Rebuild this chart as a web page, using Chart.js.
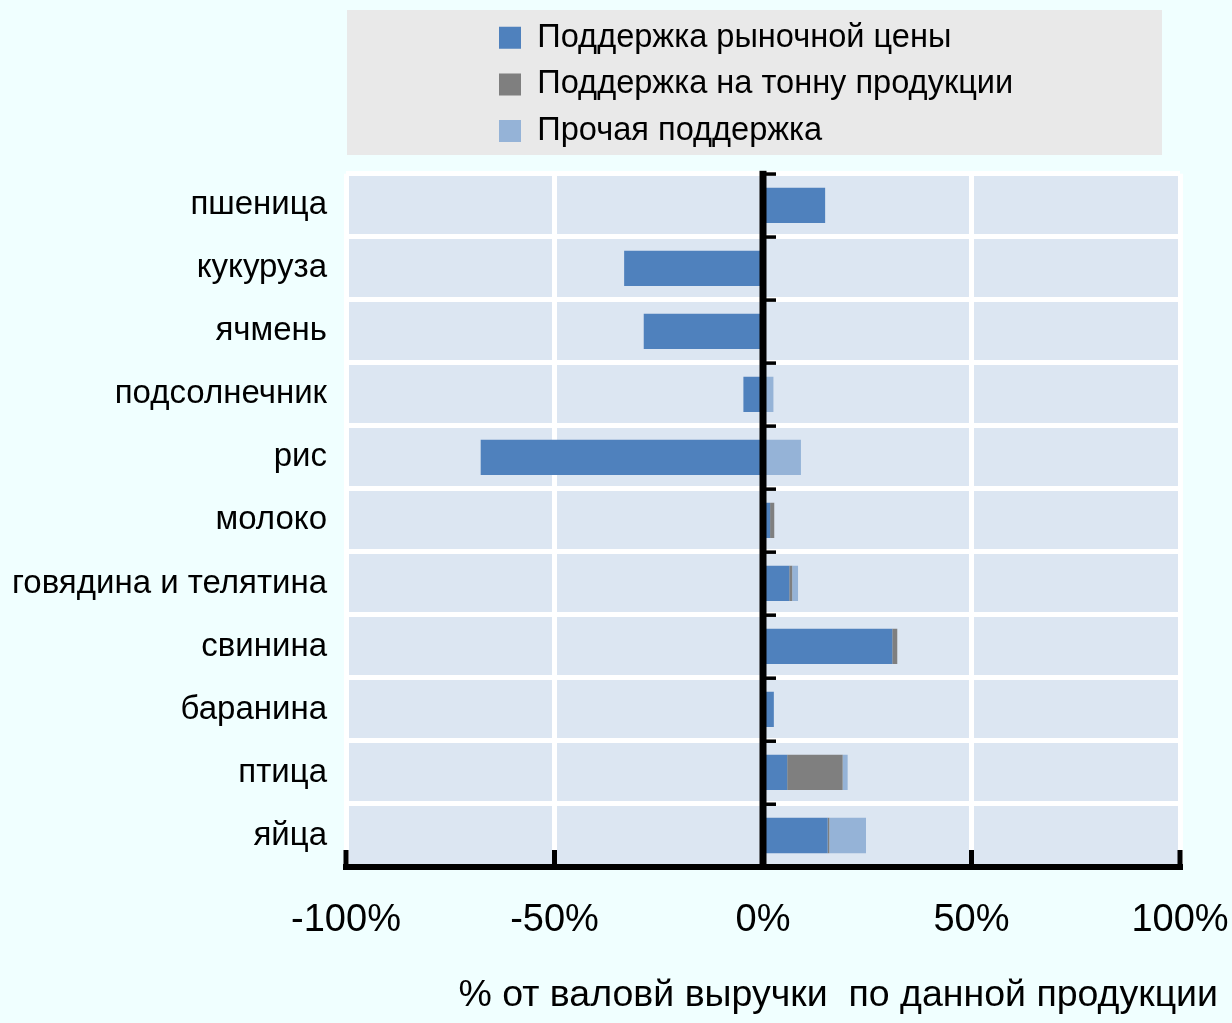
<!DOCTYPE html>
<html><head><meta charset="utf-8">
<script src="https://cdn.jsdelivr.net/npm/chart.js@4.4.1/dist/chart.umd.min.js"></script>
<style>html,body{margin:0;padding:0;background:#f0ffff;}canvas{display:block;}</style>
</head><body>
<canvas id="c" width="1232" height="1023"></canvas>
<script>
const categories = ['пшеница','кукуруза','ячмень','подсолнечник','рис','молоко','говядина и телятина','свинина','баранина','птица','яйца'];
const seriesNames = ['Поддержка рыночной цены','Поддержка на тонну продукции','Прочая поддержка'];
const marketPriceSupport = [14.9, -33.3, -28.6, -4.7, -67.7, 1.7, 6.3, 31.0, 2.6, 5.8, 15.5];
const perTonneSupport    = [0, 0, 0, 0, 0, 1.0, 0.7, 1.2, 0, 13.3, 0.4];
const otherSupport       = [0, 0, 0, 2.5, 9.1, 0, 1.4, 0, 0, 1.2, 8.8];
const xTickValues = [-100, -50, 0, 50, 100];
const axisTitle = '% от валовй выручки  по данной продукции';
const seriesColors = ['#4f81bd', '#7f7f7f', '#95b3d7'];

function hasFont(name) {
  const c = document.createElement('canvas').getContext('2d');
  const s = 'abcdefghij 0123456789%';
  c.font = '40px monospace'; const a = c.measureText(s).width;
  c.font = '40px "' + name + '", monospace'; const b = c.measureText(s).width;
  return Math.abs(a - b) > 0.5;
}
const FAM = '"Liberation Sans", Arial, sans-serif';
const narrow = hasFont('Liberation Sans Narrow');
const tickFont = narrow ? {family: '"Liberation Sans Narrow", ' + FAM, size: 44} : {family: FAM, size: 38};

const decor = {
  id: 'decor',
  afterLayout(chart) {
    const lg = chart.legend;
    const w = lg.right - lg.left;
    lg.left = 485; lg.right = 485 + w;
  },
  beforeDraw(chart) {
    const {ctx, chartArea: a} = chart;
    ctx.save();
    ctx.fillStyle = '#f0ffff'; ctx.fillRect(0, 0, chart.width, chart.height);
    ctx.fillStyle = '#e9e9e9'; ctx.fillRect(a.left + 1, 10, a.right - 18 - a.left - 1, 145);
    ctx.fillStyle = '#dce6f2'; ctx.fillRect(a.left, a.top, a.right - a.left, a.bottom - a.top);
    ctx.restore();
  },
  afterDatasetsDraw(chart) {
    const {ctx, chartArea: a, scales: {x}} = chart;
    ctx.save();
    ctx.fillStyle = '#000';
    const x0 = x.getPixelForValue(0);
    ctx.fillRect(x0 - 3.5, a.top - 3, 7, a.bottom - a.top + 3);
    const n = categories.length, step = (a.bottom - a.top) / n;
    for (let i = 0; i < n; i++) {
      const yy = a.top + i * step;
      ctx.fillRect(x0 + 3, yy - 1.5, 10, 3.5);
    }
    ctx.fillRect(a.left - 3, a.bottom - 3, a.right - a.left + 6, 6);
    xTickValues.forEach(v => {
      const px = x.getPixelForValue(v);
      ctx.fillRect(px - 2.5, a.bottom - 17, 5, 17);
    });
    ctx.restore();
  }
};

new Chart(document.getElementById('c'), {
  type: 'bar',
  data: {
    labels: categories,
    datasets: [
      {label: seriesNames[0], data: marketPriceSupport, backgroundColor: seriesColors[0]},
      {label: seriesNames[1], data: perTonneSupport, backgroundColor: seriesColors[1]},
      {label: seriesNames[2], data: otherSupport, backgroundColor: seriesColors[2]}
    ]
  },
  options: {
    indexAxis: 'y',
    responsive: false,
    animation: false,
    layout: {padding: {top: 7.5, right: 14, bottom: 0, left: 0}},
    datasets: {bar: {borderWidth: 0, categoryPercentage: 0.56, barPercentage: 1}},
    scales: {
      x: {
        stacked: true, min: -100, max: 100,
        afterBuildTicks: s => { s.ticks = xTickValues.map(v => ({value: v})); },
        afterFit: s => { s.height = 100; s.paddingRight = 52; },
        grid: {color: '#ffffff', lineWidth: 5, drawTicks: false},
        border: {display: false},
        ticks: {color: '#000', font: tickFont, padding: 31, maxRotation: 0, callback: v => v + '%'}
      },
      y: {
        stacked: true,
        afterFit: s => { s.width = 346; },
        grid: {color: '#ffffff', lineWidth: 5, drawTicks: false},
        border: {display: false},
        ticks: {color: '#000', font: {family: FAM, size: 33}, padding: 19, autoSkip: false}
      }
    },
    plugins: {
      tooltip: {enabled: false},
      legend: {
        position: 'top', align: 'start', fullSize: false,
        labels: {boxWidth: 22, boxHeight: 22, padding: 14, color: '#000', font: {family: FAM, size: 32.6}}
      },
      subtitle: {display: true, text: '', position: 'top', weight: 500, font: {size: 10}, padding: {top: 0, bottom: 4.5}},
      title: {
        display: true, text: axisTitle, position: 'bottom', align: 'end', color: '#000',
        font: {family: FAM, size: 37.5, weight: 'normal'}, padding: {top: 6, bottom: 5}
      }
    }
  },
  plugins: [decor]
});
</script>
</body></html>
